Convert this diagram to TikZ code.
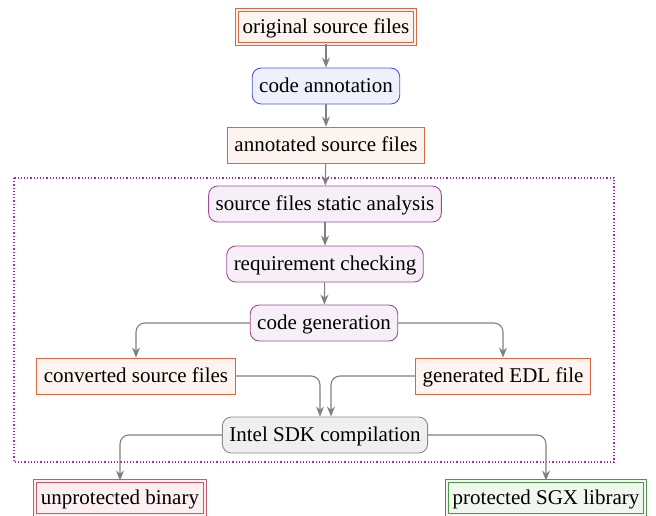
\documentclass[tikz,border=0pt]{standalone}
\usepackage{fontspec}
\setmainfont{Liberation Serif}
\usetikzlibrary{arrows.meta}
\definecolor{orB}{HTML}{D46A45}
\definecolor{orF}{HTML}{FDF4EF}
\definecolor{blB}{HTML}{5555D5}
\definecolor{blF}{HTML}{EEF0FC}
\definecolor{puB}{HTML}{9A4E9A}
\definecolor{puF}{HTML}{F7EFF7}
\definecolor{grB}{HTML}{8A8A8A}
\definecolor{grF}{HTML}{EFEFEF}
\definecolor{rdB}{HTML}{C8596C}
\definecolor{rdF}{HTML}{FCF0F2}
\definecolor{gnB}{HTML}{4C964C}
\definecolor{gnF}{HTML}{F1F6EE}
\definecolor{dotC}{HTML}{A626A6}
\definecolor{arrC}{HTML}{808080}
\tikzset{
  base/.style={font=\fontsize{21}{25}\selectfont, inner xsep=7pt, inner ysep=0pt, minimum height=36pt, line width=0.9pt, text height=16pt, text depth=3pt},
  filebox/.style={base, draw=orB, fill=orF},
  dblbox/.style={base, draw=#1B, fill=#1F, double=#1F, double distance=2.2pt, minimum height=34pt, inner xsep=6pt},
  procbox/.style={base, draw=#1B, fill=#1F, rounded corners=9pt},
  conn/.style={draw=arrC, line width=1.1pt, rounded corners=9pt, -{Stealth[length=10pt,width=8pt]}},
}
\begin{document}
\begin{tikzpicture}[x=1pt,y=-1pt]
\useasboundingbox (0,0) rectangle (656,516);
\draw[dotC, line width=1.2pt, dotted] (14,178) rectangle (614,462);
\node[dblbox=or] (orig) at (326,27) {original source files};
\node[procbox=bl] (ann) at (326,86) {code annotation};
\node[filebox] (annf) at (326,145) {annotated source files};
\node[procbox=pu] (sfsa) at (325,204) {source files static analysis};
\node[procbox=pu] (req) at (325,264) {requirement checking};
\node[procbox=pu] (gen) at (324,323) {code generation};
\node[filebox] (conv) at (136,376) {converted source files};
\node[filebox] (edl) at (503,376) {generated EDL file};
\node[procbox=gr] (sdk) at (325,435) {Intel SDK compilation};
\node[dblbox=rd] (unp) at (120,498) {unprotected binary};
\node[dblbox=gn] (prot) at (546,498) {protected SGX library};
\draw[conn] (orig) -- (ann);
\draw[conn] (ann) -- (annf);
\draw[conn] (annf) -- (sfsa);
\draw[conn] (sfsa) -- (req);
\draw[conn] (req) -- (gen);
\draw[conn] (gen.west) -| (conv.north);
\draw[conn] (gen.east) -| (edl.north);
\draw[conn] (conv.east) -| ([xshift=-5pt]sdk.north);
\draw[conn] (edl.west) -| ([xshift=6pt]sdk.north);
\draw[conn] (sdk.west) -| (unp.north);
\draw[conn] (sdk.east) -| (prot.north);
\end{tikzpicture}
\end{document}
